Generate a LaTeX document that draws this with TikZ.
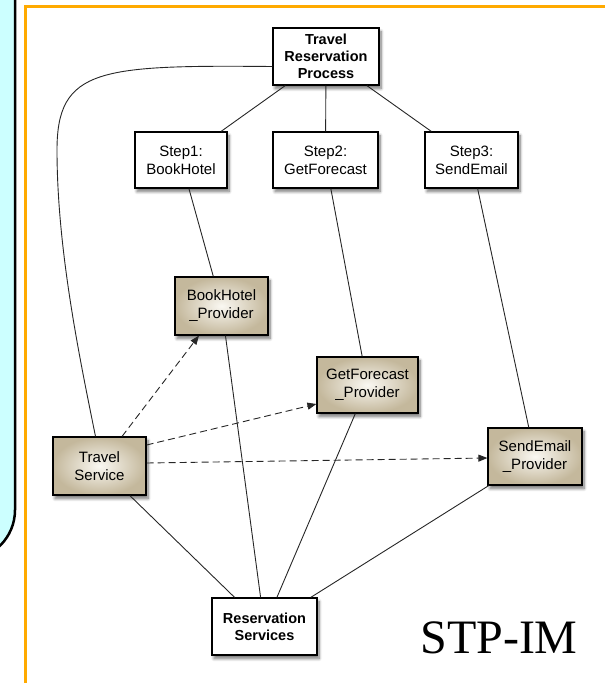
\documentclass[tikz,border=0pt]{standalone}
\usepackage{fontspec}
\setmainfont{Liberation Sans}
\newfontfamily\tmsfont{Liberation Serif}
\usetikzlibrary{shadows.blur,arrows.meta}
\definecolor{cyanbg}{RGB}{204,255,255}
\definecolor{frameor}{RGB}{255,170,0}
\definecolor{tanin}{RGB}{250,248,242}
\definecolor{tanout}{RGB}{196,184,156}
\tikzset{
 box/.style={draw=black, line width=1.2pt, inner sep=0pt, align=center,
   font=\fontsize{15}{18}\selectfont,
   blur shadow={shadow xshift=2pt, shadow yshift=-3.5pt, shadow blur steps=8, shadow blur radius=3pt, shadow opacity=55}},
 plainbox/.style={box, fill=white},
 boldbox/.style={box, fill=white, font=\fontsize{14.5}{17}\selectfont\bfseries},
 provbox/.style={box, inner color=tanin, outer color=tanout},
 link/.style={line width=0.9pt, black!85},
 dep/.style={link, dash pattern=on 7pt off 4pt, -{Triangle[length=9pt,width=7pt]}},
}
\begin{document}
\begin{tikzpicture}[x=1pt,y=-1pt]
\useasboundingbox (0,0) rectangle (605,683);
\begin{scope}
\clip (0,0) rectangle (605,683);
\draw[fill=cyanbg, line width=2.5pt, rounded corners=50pt] (-100,-60) -- (15,-60) -- (15,560) -- (-100,560);
\draw[frameor, line width=2.5pt] (25.5,6.5) rectangle (720,760);
\end{scope}

\node[boldbox, minimum width=106pt, minimum height=57pt] (trp) at (326,56.5) {Travel\\Reservation\\Process};
\node[plainbox, minimum width=92pt, minimum height=56pt] (s1) at (181,160) {Step1:\\BookHotel};
\node[plainbox, minimum width=105pt, minimum height=56pt] (s2) at (325.5,160) {Step2:\\GetForecast};
\node[plainbox, minimum width=93pt, minimum height=56pt] (s3) at (471.5,160) {Step3:\\SendEmail};
\node[provbox, minimum width=93pt, minimum height=58pt] (bhp) at (221.5,306) {BookHotel\\\_Provider};
\node[provbox, minimum width=101pt, minimum height=56pt] (gfp) at (367.5,385) {GetForecast\\\_Provider};
\node[provbox, minimum width=93pt, minimum height=58pt] (ts) at (99.5,466) {Travel\\Service};
\node[provbox, minimum width=94pt, minimum height=57pt] (sep) at (535,456.5) {SendEmail\\\_Provider};
\node[boldbox, minimum width=105pt, minimum height=57pt] (rs) at (264.5,626.5) {Reservation\\Services};
\node[font=\tmsfont\fontsize{48}{48}\selectfont, anchor=base, inner sep=0pt] (lbl) at (499,653) {STP-IM};

\draw[link] (trp) -- (s1);
\draw[link] (trp) -- (s2);
\draw[link] (trp) -- (s3);
\draw[link] (s1) -- (bhp);
\draw[link] (s2) -- (gfp);
\draw[link] (s3) -- (sep);
\draw[link] (bhp) -- (rs);
\draw[link] (gfp) -- (rs);
\draw[link] (ts) -- (rs);
\draw[link] (sep) -- (rs);
\draw[link] ([yshift=-10pt]trp.west) .. controls (100,65) and (57,68) .. (57,150)
   .. controls (57,250) and (80,360) .. ([xshift=-4pt]ts.north);
\draw[dep] (ts) -- (bhp);
\draw[dep] ([yshift=21pt]ts.east) -- ([yshift=-19pt]gfp.west);
\draw[dep] ([yshift=3pt]ts.east) -- ([yshift=-1.5pt]sep.west);
\end{tikzpicture}
\end{document}
